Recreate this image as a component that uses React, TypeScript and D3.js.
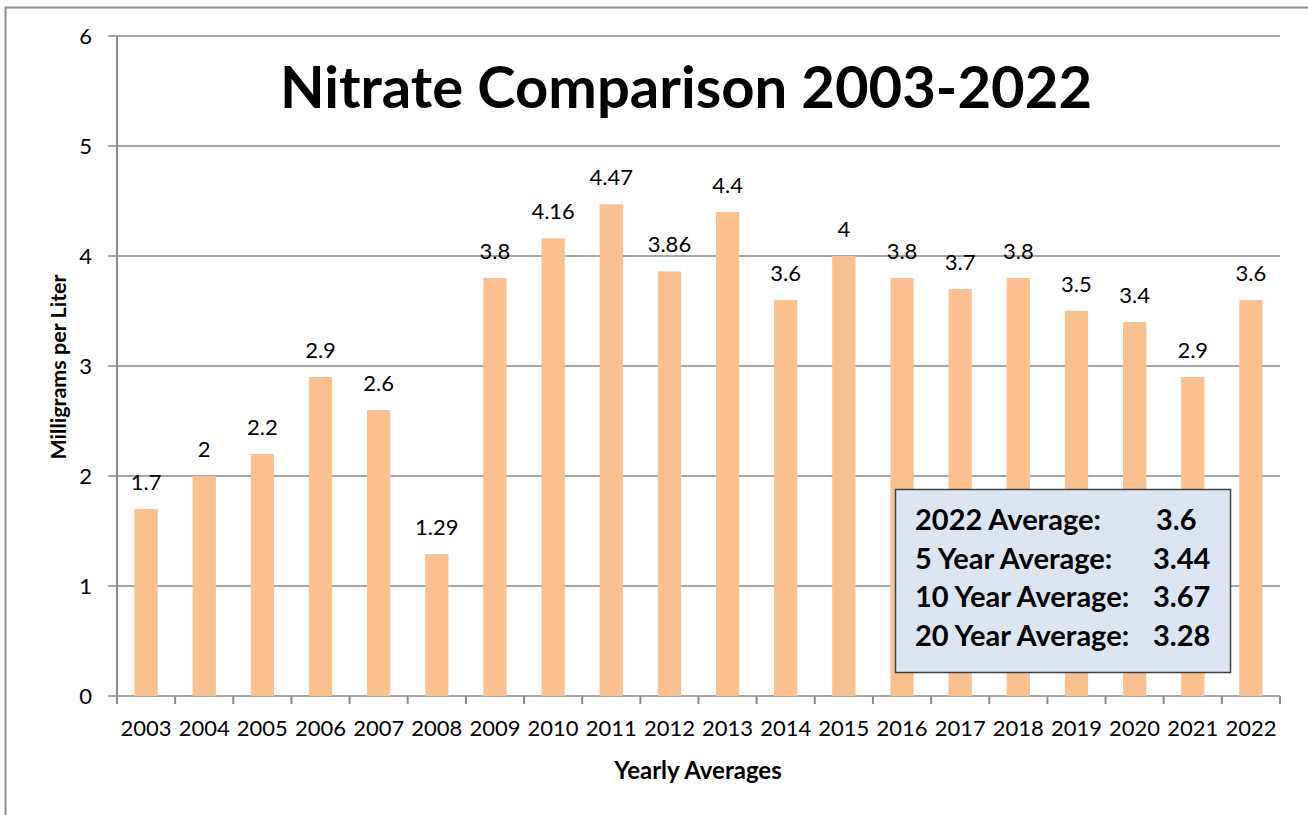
import React, { useEffect, useRef } from 'react';
import * as d3 from 'd3';

const years = ['2003', '2004', '2005', '2006', '2007', '2008', '2009', '2010', '2011', '2012',
  '2013', '2014', '2015', '2016', '2017', '2018', '2019', '2020', '2021', '2022'];
const nitrate = [1.7, 2, 2.2, 2.9, 2.6, 1.29, 3.8, 4.16, 4.47, 3.86,
  4.4, 3.6, 4, 3.8, 3.7, 3.8, 3.5, 3.4, 2.9, 3.6];
const yTicks = [0, 1, 2, 3, 4, 5, 6];
const summaryLabels = ['2022 Average:', '5 Year Average:', '10 Year Average:', '20 Year Average:'];
const summaryValues = ['3.6', '3.44', '3.67', '3.28'];

const W = 1308;
const H = 815;
const FONT = 'Lato, Carlito, Calibri, sans-serif';

const App: React.FC = () => {
  const ref = useRef<SVGSVGElement>(null);

  useEffect(() => {
    const svg = d3.select(ref.current);
    svg.selectAll('*').remove();

    const margin = { top: 36, right: 28, bottom: 119, left: 117 };
    const width = W - margin.left - margin.right;
    const height = H - margin.top - margin.bottom;

    // outer frame
    svg.append('path')
      .attr('d', `M5.5,${H} V7.5 H${W}`)
      .attr('fill', 'none')
      .attr('stroke', '#8c8c8c')
      .attr('stroke-width', 2);

    const g = svg.append('g').attr('transform', `translate(${margin.left},${margin.top})`);

    const x = d3.scaleBand().domain(years).range([0, width]).paddingInner(0.6).paddingOuter(0.3);
    const y = d3.scaleLinear().domain([0, 6]).range([height, 0]);

    // gridlines + left ticks
    g.selectAll('.grid')
      .data(yTicks)
      .join('line')
      .attr('x1', -9)
      .attr('x2', width)
      .attr('y1', d => y(d))
      .attr('y2', d => y(d))
      .attr('stroke', '#a6a6a6')
      .attr('stroke-width', 2);

    g.selectAll('.ylab')
      .data(yTicks)
      .join('text')
      .attr('x', -25)
      .attr('y', d => y(d) + 8)
      .attr('text-anchor', 'end')
      .style('font-family', FONT)
      .style('font-size', '22px')
      .attr('fill', '#000')
      .text(d => d);

    // bars
    g.selectAll('.bar')
      .data(nitrate)
      .join('rect')
      .attr('x', (d, i) => x(years[i])!)
      .attr('y', d => y(d))
      .attr('width', x.bandwidth())
      .attr('height', d => height - y(d))
      .attr('fill', '#fac090');

    // value labels
    g.selectAll('.vlab')
      .data(nitrate)
      .join('text')
      .attr('x', (d, i) => x(years[i])! + x.bandwidth() / 2)
      .attr('y', d => y(d) - 19)
      .attr('text-anchor', 'middle')
      .style('font-family', FONT)
      .style('font-size', '22px')
      .attr('fill', '#000')
      .text(d => String(d));

    // axes lines
    g.append('line')
      .attr('x1', 0).attr('x2', 0)
      .attr('y1', 0).attr('y2', height + 8)
      .attr('stroke', '#8c8c8c').attr('stroke-width', 2);
    const step = x.step();
    g.selectAll('.xtick')
      .data(d3.range(years.length + 1))
      .join('line')
      .attr('x1', d => d * step).attr('x2', d => d * step)
      .attr('y1', height).attr('y2', height + 8)
      .attr('stroke', '#8c8c8c').attr('stroke-width', 2);

    g.selectAll('.xlab')
      .data(years)
      .join('text')
      .attr('x', d => x(d)! + x.bandwidth() / 2)
      .attr('y', height + 40)
      .attr('text-anchor', 'middle')
      .style('font-family', FONT)
      .style('font-size', '22px')
      .attr('fill', '#000')
      .text(d => d);

    // titles
    svg.append('text')
      .attr('x', 686)
      .attr('y', 108)
      .attr('text-anchor', 'middle')
      .style('font-family', FONT)
      .style('font-size', '58px')
      .style('font-weight', 'bold')
      .text('Nitrate Comparison 2003-2022');

    svg.append('text')
      .attr('x', 698)
      .attr('y', 779)
      .attr('text-anchor', 'middle')
      .style('font-family', FONT)
      .style('font-size', '24px')
      .style('font-weight', 'bold')
      .text('Yearly Averages');

    svg.append('text')
      .attr('transform', 'translate(66,367) rotate(-90)')
      .attr('text-anchor', 'middle')
      .style('font-family', FONT)
      .style('font-size', '21.5px')
      .style('font-weight', 'bold')
      .text('Milligrams per Liter');

    // summary box
    const box = svg.append('g');
    box.append('rect')
      .attr('x', 895.5).attr('y', 489.5)
      .attr('width', 335).attr('height', 183)
      .attr('fill', '#dce6f2')
      .attr('stroke', '#404040')
      .attr('stroke-width', 1.5);
    box.selectAll('.slab')
      .data(summaryLabels)
      .join('text')
      .attr('x', 915)
      .attr('y', (d, i) => 530 + i * 38.5)
      .style('font-family', FONT)
      .style('font-size', '29px')
      .style('font-weight', 'bold')
      .text(d => d);
    box.selectAll('.sval')
      .data(summaryValues)
      .join('text')
      .attr('x', (d, i) => (i === 0 ? 1156 : 1153))
      .attr('y', (d, i) => 530 + i * 38.5)
      .style('font-family', FONT)
      .style('font-size', '29px')
      .style('font-weight', 'bold')
      .text(d => d);
  }, []);

  return (
    <svg
      ref={ref}
      width={W}
      height={H}
      style={{ position: 'absolute', left: 0, top: 0, background: '#fff' }}
    />
  );
};

export default App;
